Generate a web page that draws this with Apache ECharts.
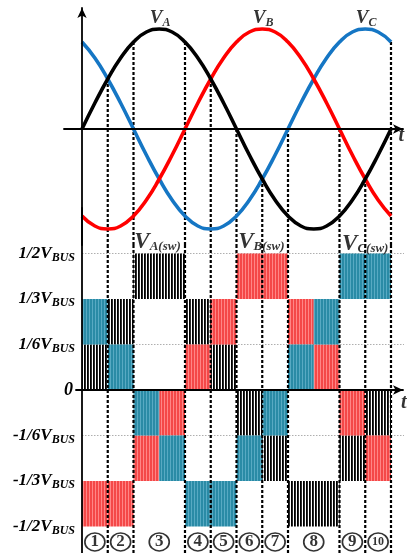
<!DOCTYPE html>
<html><head><meta charset="utf-8">
<script src="https://cdn.jsdelivr.net/npm/echarts@6/dist/echarts.min.js"></script>
<style>html,body{margin:0;padding:0;background:#fff}#c{width:407px;height:553px}</style>
</head><body><div id="c"></div>
<script>
// ---- data ----
const angles = [0,15,30,45,60,75,90,105,120,135,150,165,180,195,210,225,240,255,270,285,300,315,330,345,360];
const vA = [0,0.26,0.5,0.71,0.87,0.97,1,0.97,0.87,0.71,0.5,0.26,0,-0.26,-0.5,-0.71,-0.87,-0.97,-1,-0.97,-0.87,-0.71,-0.5,-0.26,0];
const vB = [-0.87,-0.97,-1,-0.97,-0.87,-0.71,-0.5,-0.26,0,0.26,0.5,0.71,0.87,0.97,1,0.97,0.87,0.71,0.5,0.26,0,-0.26,-0.5,-0.71,-0.87];
const vC = [0.87,0.71,0.5,0.26,0,-0.26,-0.5,-0.71,-0.87,-0.97,-1,-0.97,-0.87,-0.71,-0.5,-0.26,0,0.26,0.5,0.71,0.87,0.97,1,0.97,0.87];
const sectorBounds = [30,60,120,150,180,210,240,300,330,360];
const boundStart = [0.5,0.87,0.87,0.5,0,-0.5,0,0,-0.5,0.87];
const sectorCenters = [15,45,90,135,165,195,225,270,315,345];
const sectorNames = ['1','2','3','4','5','6','7','8','9','10'];
const levelValues = [-3,-2,-1,0,1,2,3];
const levelLabels = ['-1/2','-1/3','-1/6','0','1/6','1/3','1/2'];
const gridLevels = [3,1,-1];
// blocks: [startDeg, endDeg, lowLevel, highLevel] in units of 1/6 V_BUS
const blocksA = [[0,30,0,1],[30,60,1,2],[60,120,2,3],[120,150,1,2],[150,180,0,1],[180,210,-1,0],[210,240,-2,-1],[240,300,-3,-2],[300,330,-2,-1],[330,360,-1,0]];
const blocksB = [[0,30,-3,-2],[30,60,-3,-2],[60,90,-2,-1],[90,120,-1,0],[120,150,0,1],[150,180,1,2],[180,210,2,3],[210,240,2,3],[240,270,1,2],[270,300,0,1],[300,330,-1,0],[330,360,-2,-1]];
const blocksC = [[0,30,1,2],[30,60,0,1],[60,90,-1,0],[90,120,-2,-1],[120,150,-3,-2],[150,180,-3,-2],[180,210,-2,-1],[210,240,-1,0],[240,270,0,1],[270,300,1,2],[300,330,2,3],[330,360,2,3]];

// ---- styles ----
const SERIF = '"Liberation Serif","Times New Roman",serif';
function makePattern(cols){
  const c=document.createElement('canvas'); c.width=cols.length; c.height=1;
  const ctx=c.getContext('2d');
  cols.forEach((col,i)=>{ctx.fillStyle=col; ctx.fillRect(i,0,1,1);});
  return {image:c, repeat:'repeat'};
}
const patA = makePattern(['#000','#2a2a2a','#fff']);
const patB = makePattern(['#f44848','#f44848','#ff8686']);
const patC = makePattern(['#2a8ba6','#2a8ba6','#58aac3']);

const TOP_MIN=-1.16, TOP_MAX=1.21, BOT_TOP=3.187, BOT_BOT=-3.582;

function blockSeries(data, pat){
  return {type:'custom', xAxisIndex:1, yAxisIndex:1, z:2, silent:true, data:data,
    renderItem:(params, api)=>{
      const p1=api.coord([api.value(0), api.value(3)]);
      const p2=api.coord([api.value(1), api.value(2)]);
      return {type:'rect', shape:{x:p1[0], y:p1[1], width:p2[0]-p1[0], height:p2[1]-p1[1]}, style:{fill:pat}};
    }};
}
function curve(data, color){
  return {type:'line', xAxisIndex:0, yAxisIndex:0, z:6, smooth:0.5, symbol:'none', silent:true,
    data:angles.map((a,i)=>[a,data[i]]), lineStyle:{color:color, width:3.6}};
}
const dashStyle = {color:'#000', width:2.2, type:[3,2]};
const series = [];
series.push(blockSeries(blocksA, patA), blockSeries(blocksB, patB), blockSeries(blocksC, patC));
gridLevels.forEach(l=>series.push({type:'line', xAxisIndex:1, yAxisIndex:1, z:1, symbol:'none', silent:true, clip:false,
  data:[[0,l],[380,l]], lineStyle:{color:'#9a9a9a', width:0.8, type:[1.5,1.5]}}));
sectorBounds.forEach((a,i)=>{
  series.push({type:'line', xAxisIndex:0, yAxisIndex:0, z:4, symbol:'none', silent:true,
    data:[[a,boundStart[i]],[a,TOP_MIN]], lineStyle:dashStyle});
  series.push({type:'line', xAxisIndex:1, yAxisIndex:1, z:4, symbol:'none', silent:true,
    data:[[a,BOT_TOP],[a,BOT_BOT]], lineStyle:dashStyle});
});
series.push(curve(vC,'#1576c4'), curve(vB,'#ff0000'), curve(vA,'#000000'));

const richTop = {
  v:{fontFamily:SERIF, fontStyle:'italic', fontWeight:'bold', fontSize:19, lineHeight:19, color:'#000'},
  s:{fontFamily:SERIF, fontStyle:'italic', fontWeight:'bold', fontSize:12, lineHeight:12, padding:[9,0,0,0], color:'#000'},
  V:{fontFamily:SERIF, fontStyle:'italic', fontWeight:'bold', fontSize:23, lineHeight:23, color:'#000'},
  S:{fontFamily:SERIF, fontStyle:'italic', fontWeight:'bold', fontSize:13, lineHeight:13, padding:[10,0,0,0], color:'#000'},
  t:{fontFamily:SERIF, fontStyle:'italic', fontWeight:'bold', fontSize:20, color:'#000'}
};
function txt(x,y,fmt){return {value:[x,y], label:{formatter:fmt}};}
series.push({type:'scatter', xAxisIndex:0, yAxisIndex:0, z:10, silent:true, clip:false, symbolSize:1,
  itemStyle:{color:'rgba(0,0,0,0)'},
  label:{show:true, position:'inside', rich:richTop},
  data:[txt(91,1.11,'{v|V}{s|A}'), txt(211,1.11,'{v|V}{s|B}'), txt(331,1.11,'{v|V}{s|C}'),
        txt(88,-1.13,'{V|V}{S|A(sw)}'), txt(209,-1.13,'{V|V}{S|B(sw)}'), txt(330,-1.15,'{V|V}{S|C(sw)}'),
        txt(372,-0.07,'{t|t}')]});
series.push({type:'scatter', xAxisIndex:1, yAxisIndex:1, z:10, silent:true, clip:false, symbolSize:1,
  itemStyle:{color:'rgba(0,0,0,0)'},
  label:{show:true, position:'inside', rich:richTop},
  data:[txt(375,-0.29,'{t|t}')]});
series.push({type:'scatter', xAxisIndex:1, yAxisIndex:1, z:9, silent:true, clip:false,
  symbol:'circle', symbolSize:[20,18],
  itemStyle:{color:'#fff', borderColor:'#000', borderWidth:1.6},
  label:{show:true, position:'inside', fontFamily:SERIF, fontWeight:'bold', color:'#000', fontSize:17,
    formatter:p=>p.data.name.length>1?'{m|'+p.data.name+'}':p.data.name, rich:{m:{fontFamily:SERIF, fontWeight:'bold', fontSize:12, color:'#000'}}},
  data:sectorCenters.map((c,i)=>({value:[c,-3.34], name:sectorNames[i]}))});

const axisLineStyle = {color:'#000', width:1.8};
const option = {
  animation:false,
  backgroundColor:'#fff',
  grid:[
    {left:63.975, width:339.04, top:8, height:237, outerBoundsMode:'none', containLabel:false},
    {left:75.99, width:327.02, top:208, height:364, outerBoundsMode:'none', containLabel:false}
  ],
  xAxis:[
    {type:'value', gridIndex:0, min:-21, max:374, z:8,
     axisLine:{onZero:true, lineStyle:axisLineStyle, symbol:['none','arrow'], symbolSize:[7,10]},
     axisTick:{show:false}, axisLabel:{show:false}, splitLine:{show:false}},
    {type:'value', gridIndex:1, min:-7, max:374, z:8,
     axisLine:{onZero:true, lineStyle:axisLineStyle, symbol:['none','arrow'], symbolSize:[7,10]},
     axisTick:{show:false}, axisLabel:{show:false}, splitLine:{show:false}}
  ],
  yAxis:[
    {type:'value', gridIndex:0, min:TOP_MIN, max:TOP_MAX, z:8,
     axisLine:{onZero:true, lineStyle:axisLineStyle, symbol:['none','arrow'], symbolSize:[7,10]},
     axisTick:{show:false}, axisLabel:{show:false}, splitLine:{show:false}},
    {type:'value', gridIndex:1, min:-4, max:4, interval:1, z:8,
     axisLine:{onZero:true, lineStyle:axisLineStyle},
     axisTick:{show:false}, splitLine:{show:false},
     axisLabel:{show:true, margin:1, hideOverlap:false, showMinLabel:true, showMaxLabel:true,
       formatter:v=>{const i=levelValues.indexOf(v); if(i<0) return ''; const t=levelLabels[i];
         return t==='0' ? '{z|0}' : '{n|'+t+'V}{s|BUS}';},
       rich:{
         z:{fontFamily:SERIF, fontStyle:'italic', fontWeight:'bold', fontSize:18, lineHeight:18, padding:[0,2,0,0], color:'#000'},
         n:{fontFamily:SERIF, fontStyle:'italic', fontWeight:'bold', fontSize:17, lineHeight:17, color:'#000'},
         s:{fontFamily:SERIF, fontStyle:'italic', fontWeight:'bold', fontSize:12, lineHeight:12, padding:[8,0,0,0], color:'#000'}
       }}}
  ],
  series:series
};
const chart = echarts.init(document.getElementById('c'), null, {renderer:'canvas'});
chart.setOption(option);
</script></body></html>
